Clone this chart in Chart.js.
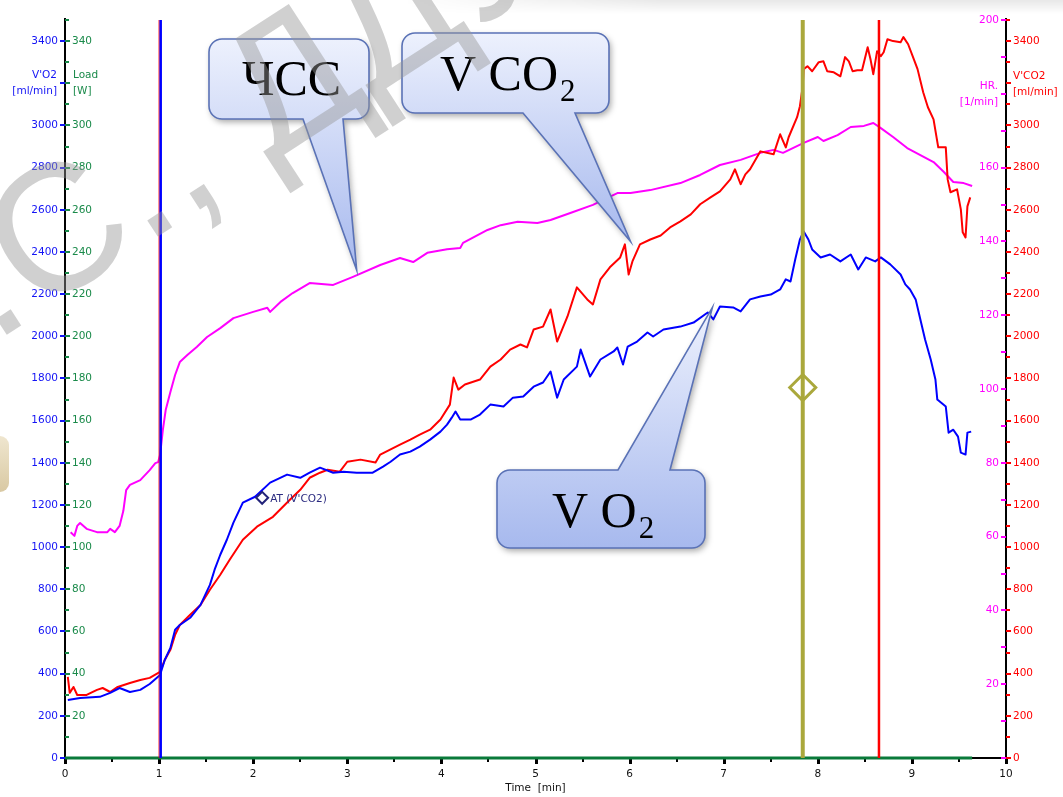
<!DOCTYPE html>
<html><head><meta charset="utf-8">
<script src="https://cdn.jsdelivr.net/npm/chart.js@4.4.1/dist/chart.umd.min.js"></script>
<style>html,body{margin:0;padding:0;background:#fff;overflow:hidden}#wrap{position:relative;width:1063px;height:797px}canvas{display:block}</style>
</head><body><div id="wrap"><canvas id="c" width="1063" height="797"></canvas></div>
<script>
// ---------- DATA ----------
const timeTickLabels = [0,1,2,3,4,5,6,7,8,9,10];
const vo2TickLabels = [0,200,400,600,800,1000,1200,1400,1600,1800,2000,2200,2400,2600,2800,3000,3400];
const loadTickLabels = [20,40,60,80,100,120,140,160,180,200,220,240,260,280,300,340];
const hrTickLabels = [20,40,60,80,100,120,140,160,200];
const vco2TickLabels = [0,200,400,600,800,1000,1200,1400,1600,1800,2000,2200,2400,2600,2800,3000,3400];

const hrTime = [0.06,0.10,0.13,0.16,0.23,0.34,0.45,0.48,0.53,0.58,
  0.62,0.65,0.69,0.80,0.90,0.96,0.99,1.01,1.04,1.07,
  1.12,1.17,1.22,1.30,1.40,1.51,1.65,1.79,2.00,2.15,
  2.18,2.29,2.42,2.60,2.85,3.06,3.35,3.56,3.70,3.85,
  4.06,4.20,4.23,4.49,4.63,4.81,5.02,5.16,5.37,5.61,
  5.87,6.01,6.22,6.54,6.75,6.96,7.18,7.39,7.53,7.63,
  7.85,8.00,8.06,8.21,8.35,8.49,8.59,8.67,8.80,8.95,
  9.09,9.23,9.34,9.44,9.55,9.64];
const hrValues = [61.2,60.2,62.9,63.7,62.1,61.2,61.2,62.1,61.2,62.9,
  67.0,72.6,74.0,75.3,78.0,79.9,80.2,82.1,88.9,94.3,
  99.2,103.8,107.3,109.2,111.4,114.1,116.5,119.2,120.9,122.0,
  120.9,123.6,126.0,128.7,128.2,130.4,133.6,135.5,134.4,136.9,
  137.9,138.2,139.6,143.1,144.4,145.3,145.0,145.8,147.7,149.9,
  153.1,153.1,153.9,155.8,158.0,160.7,162.1,164.0,164.8,164.0,
  166.7,168.3,167.2,168.8,171.0,171.3,172.1,170.7,168.3,165.3,
  163.4,161.5,158.8,156.1,155.8,155.0];

const vo2Time = [0.03,0.16,0.37,0.48,0.58,0.69,0.80,0.90,1.01,1.06,
  1.12,1.17,1.22,1.33,1.44,1.49,1.54,1.59,1.65,1.72,
  1.79,1.89,2.02,2.18,2.36,2.50,2.60,2.71,2.85,2.96,
  3.10,3.27,3.38,3.46,3.56,3.67,3.77,3.88,3.99,4.06,
  4.11,4.15,4.20,4.31,4.41,4.52,4.66,4.76,4.87,4.98,
  5.08,5.16,5.23,5.30,5.44,5.48,5.58,5.69,5.83,5.87,
  5.93,5.98,6.08,6.19,6.25,6.36,6.54,6.68,6.83,6.89,
  6.96,7.10,7.18,7.28,7.39,7.50,7.60,7.66,7.71,7.76,
  7.81,7.85,7.90,7.94,8.03,8.13,8.24,8.35,8.43,8.51,
  8.61,8.67,8.77,8.88,8.93,8.98,9.04,9.09,9.14,9.20,
  9.25,9.27,9.36,9.39,9.44,9.49,9.52,9.57,9.59,9.63];
const vo2Values = [275,285,290,309,332,313,323,351,394,465,
  522,608,631,665,726,774,821,893,964,1035,
  1116,1211,1239,1306,1344,1329,1353,1377,1353,1358,
  1353,1353,1382,1405,1439,1453,1477,1510,1548,1581,
  1614,1643,1605,1605,1629,1676,1667,1709,1714,1761,
  1781,1833,1709,1795,1856,1937,1809,1890,1928,1947,
  1866,1951,1975,2018,1999,2032,2046,2065,2113,2080,
  2141,2137,2118,2175,2189,2198,2222,2270,2260,2364,
  2459,2497,2459,2412,2374,2388,2355,2388,2317,2374,
  2355,2374,2341,2293,2246,2222,2175,2080,1985,1890,
  1795,1700,1667,1543,1557,1524,1448,1439,1543,1548];

const vco2Time = [0.03,0.05,0.09,0.13,0.23,0.34,0.40,0.48,0.56,0.69,
  0.80,0.90,1.01,1.06,1.12,1.17,1.22,1.33,1.44,1.54,
  1.65,1.75,1.89,2.04,2.21,2.39,2.50,2.60,2.71,2.79,
  2.92,3.00,3.14,3.30,3.35,3.56,3.67,3.77,3.88,3.99,
  4.09,4.13,4.18,4.25,4.41,4.52,4.63,4.73,4.84,4.91,
  4.98,5.08,5.16,5.23,5.34,5.44,5.55,5.61,5.69,5.79,
  5.90,5.95,5.99,6.03,6.11,6.22,6.33,6.43,6.54,6.65,
  6.75,6.86,6.96,7.07,7.12,7.18,7.23,7.28,7.39,7.53,
  7.60,7.66,7.69,7.78,7.81,7.84,7.85,7.89,7.94,8.01,
  8.06,8.10,8.17,8.24,8.29,8.33,8.37,8.42,8.47,8.53,
  8.56,8.59,8.63,8.67,8.70,8.74,8.80,8.88,8.91,8.96,
  9.02,9.06,9.12,9.17,9.23,9.28,9.36,9.38,9.41,9.48,
  9.52,9.54,9.57,9.59,9.62];
const vco2Values = [385,309,337,299,299,323,332,313,337,356,
  370,380,408,465,513,584,631,679,726,798,
  869,940,1035,1097,1144,1225,1272,1329,1353,1367,
  1358,1405,1415,1401,1439,1486,1510,1534,1557,1605,
  1676,1804,1747,1771,1795,1856,1890,1937,1961,1947,
  2032,2046,2127,1975,2094,2232,2175,2151,2270,2327,
  2374,2436,2293,2355,2436,2459,2478,2516,2545,2578,
  2626,2659,2687,2744,2792,2721,2768,2792,2877,2863,
  2958,2896,2944,3039,3091,3186,3267,3281,3257,3300,
  3304,3257,3252,3233,3324,3304,3257,3262,3262,3371,
  3314,3243,3352,3328,3347,3409,3400,3395,3419,3385,
  3314,3267,3157,3086,3029,2896,2896,2744,2683,2697,
  2602,2493,2469,2616,2659];

const loadTime = [0, 9.64];
const loadValues = [0, 0];

// phase markers: start of load (two-tone line), threshold, end of load
const phaseTimes = [1.0, 1.017, 7.84, 8.65];
const atMarker = {time: 2.095, vo2: 1234, label: "AT (V'CO2)"};
const vtMarker = {time: 7.84, vo2: 1757};

// ---------- CHART ----------
const pts = (xs, ys) => xs.map((x, i) => ({x, y: ys[i]}));
const vline = t => [{x: t, y: 0}, {x: t, y: 3500}];
const FONT = '10.5px "DejaVu Sans"';
const C = {blue:'#1414f5', green:'#1a8a4a', mag:'#ff00ff', red:'#ff0000', olive:'#aaa83c'};

function seg(ctx,x1,y1,x2,y2){ctx.beginPath();ctx.moveTo(x1,y1);ctx.lineTo(x2,y2);ctx.stroke();}

const backgroundPlugin = {
  id: 'bg',
  beforeDraw(chart) {
    const ctx = chart.ctx;
    ctx.save();
    // faint slide shadow along the top edge, fading in from the left
    const g = ctx.createLinearGradient(0, 0, 0, 14);
    g.addColorStop(0, 'rgba(0,0,0,0.09)'); g.addColorStop(1, 'rgba(0,0,0,0)');
    ctx.fillStyle = g;
    for (let x = 400; x < 1063; x += 4) {
      ctx.globalAlpha = Math.min(1, (x - 400) / 260);
      ctx.fillRect(x, 0, 4, 14);
    }
    ctx.restore();
    // slide element peeking in at the left edge
    ctx.save();
    const b = ctx.createLinearGradient(0, 436, 0, 492);
    b.addColorStop(0, '#efe6cf'); b.addColorStop(1, '#d9c9a3');
    ctx.fillStyle = b;
    ctx.beginPath(); ctx.moveTo(-20, 436); ctx.lineTo(0, 436); ctx.arcTo(9, 436, 9, 446, 9);
    ctx.lineTo(9, 482); ctx.arcTo(9, 492, 0, 492, 9); ctx.lineTo(-20, 492); ctx.closePath(); ctx.fill();
    ctx.restore();
  }
};

const axesPlugin = {
  id: 'customAxes',
  beforeDatasetsDraw(chart) {
    const {ctx, chartArea: a, scales: s} = chart;
    ctx.save();
    ctx.lineCap = 'butt';
    ctx.strokeStyle = '#000'; ctx.lineWidth = 2;
    seg(ctx, a.left, a.top - 2, a.left, a.bottom + 4);
    seg(ctx, a.right, a.top - 2, a.right, a.bottom + 4);
    seg(ctx, a.left, a.bottom, a.right, a.bottom);
    ctx.font = FONT; ctx.textBaseline = 'middle';
    for (let v = 0; v <= 3500; v += 100) {
      const y = Math.round(s.yVO2.getPixelForValue(v));
      ctx.fillStyle = C.green;
      if (v % 200 === 0) {
        ctx.fillStyle = C.blue; ctx.fillRect(a.left - 5, y - 1, 5, 2);
        ctx.fillStyle = C.green; ctx.fillRect(a.left, y - 1, 5, 2);
      } else {
        ctx.fillRect(a.left, y - 1, 4, 2);
      }
    }
    ctx.textAlign = 'right'; ctx.fillStyle = C.blue;
    vo2TickLabels.forEach(v => ctx.fillText(String(v), a.left - 7, s.yVO2.getPixelForValue(v)));
    ctx.textAlign = 'left'; ctx.fillStyle = C.green;
    loadTickLabels.forEach(v => ctx.fillText(String(v), a.left + 7, s.yLoad.getPixelForValue(v)));
    for (let h = 0; h <= 200; h += 10) {
      const y = Math.round(s.yHR.getPixelForValue(h));
      ctx.fillStyle = C.mag; ctx.fillRect(a.right - 5, y - 1, 5, 2);
    }
    for (let v = 0; v <= 3500; v += 100) {
      const y = Math.round(s.yCO2.getPixelForValue(v));
      ctx.fillStyle = C.red; ctx.fillRect(a.right, y - 1, v % 200 === 0 ? 5 : 4, 2);
    }
    ctx.textAlign = 'right'; ctx.fillStyle = C.mag;
    hrTickLabels.forEach(v => ctx.fillText(String(v), a.right - 7, s.yHR.getPixelForValue(v)));
    ctx.textAlign = 'left'; ctx.fillStyle = C.red;
    vco2TickLabels.forEach(v => ctx.fillText(String(v), a.right + 7, s.yCO2.getPixelForValue(v)));
    ctx.fillStyle = '#000';
    for (let t = 0; t <= 10; t += 0.5) {
      const x = Math.round(s.x.getPixelForValue(t));
      if (Number.isInteger(t)) ctx.fillRect(x - 1, a.bottom + 1, 3, 5);
      else ctx.fillRect(x - 1, a.bottom + 1, 2, 3);
    }
    ctx.textAlign = 'center'; ctx.fillStyle = '#111';
    timeTickLabels.forEach(t => ctx.fillText(String(t), s.x.getPixelForValue(t), a.bottom + 16));
    ctx.fillText('Time  [min]', (a.left + a.right) / 2, a.bottom + 30);
    ctx.textAlign = 'right'; ctx.fillStyle = C.blue;
    ctx.fillText("V'O2", a.left - 8, 75); ctx.fillText('[ml/min]', a.left - 8, 91);
    ctx.textAlign = 'left'; ctx.fillStyle = C.green;
    ctx.fillText('Load', a.left + 8, 75); ctx.fillText('[W]', a.left + 8, 91);
    ctx.textAlign = 'right'; ctx.fillStyle = C.mag;
    ctx.fillText('HR.', a.right - 8, 86); ctx.fillText('[1/min]', a.right - 8, 102);
    ctx.textAlign = 'left'; ctx.fillStyle = C.red;
    ctx.fillText("V'CO2", a.right + 7, 76); ctx.fillText('[ml/min]', a.right + 7, 92);
    ctx.restore();
  },
  afterDatasetsDraw(chart) {
    const {ctx, scales: s} = chart;
    ctx.save();
    ctx.font = FONT; ctx.textBaseline = 'middle'; ctx.textAlign = 'left';
    ctx.fillStyle = '#2b2b80';
    ctx.fillText(atMarker.label, s.x.getPixelForValue(atMarker.time) + 8, s.yVO2.getPixelForValue(atMarker.vo2) + 1);
    ctx.restore();
  }
};

function calloutPath(ctx, L, T, R, B, r, side, b1, b2, tx, ty) {
  ctx.beginPath();
  ctx.moveTo(L + r, T);
  if (side === 'top') { ctx.lineTo(b1, T); ctx.lineTo(tx, ty); ctx.lineTo(b2, T); }
  ctx.lineTo(R - r, T); ctx.arcTo(R, T, R, T + r, r);
  ctx.lineTo(R, B - r); ctx.arcTo(R, B, R - r, B, r);
  if (side === 'bottom') { ctx.lineTo(b2, B); ctx.lineTo(tx, ty); ctx.lineTo(b1, B); }
  ctx.lineTo(L + r, B); ctx.arcTo(L, B, L, B - r, r);
  ctx.lineTo(L, T + r); ctx.arcTo(L, T, L + r, T, r);
  ctx.closePath();
}
function drawCallout(ctx, c, s) {
  const tx = s.x.getPixelForValue(c.tipTime), ty = s[c.axis].getPixelForValue(c.tipValue);
  const [L, T, R, B] = c.box;
  const y0 = Math.min(T, ty), y1 = Math.max(B, ty);
  const g = ctx.createLinearGradient(0, y0, 0, y1);
  g.addColorStop(0, '#edf1fd'); g.addColorStop(1, '#a7b9ee');
  ctx.save();
  calloutPath(ctx, L, T, R, B, 13, c.side, c.base[0], c.base[1], tx, ty);
  ctx.shadowColor = 'rgba(0,0,0,0.35)'; ctx.shadowBlur = 6; ctx.shadowOffsetX = 2; ctx.shadowOffsetY = 3;
  ctx.fillStyle = g; ctx.fill();
  ctx.shadowColor = 'transparent';
  ctx.strokeStyle = '#5a72b6'; ctx.lineWidth = 1.6; ctx.stroke();
  ctx.fillStyle = '#000'; ctx.textBaseline = 'alphabetic'; ctx.textAlign = 'left';
  ctx.font = '50px "Liberation Serif"';
  ctx.fillText(c.text, c.textX, c.textY);
  if (c.sub) {
    const w = ctx.measureText(c.text).width;
    ctx.font = '31px "Liberation Serif"';
    ctx.fillText(c.sub, c.textX + w + 2, c.textY + 11);
  }
  ctx.restore();
}
const callouts = [
  {text: 'ЧСС', box: [209, 39, 369, 119], side: 'bottom', base: [303, 343], tipTime: 3.10, axis: 'yHR', tipValue: 132.2, textX: 242, textY: 95},
  {text: 'V CO', sub: '2', box: [402, 33, 609, 113], side: 'bottom', base: [523, 575], tipTime: 6.01, axis: 'yCO2', tipValue: 2450, textX: 440, textY: 90},
  {text: 'V O', sub: '2', box: [497, 470, 705, 548], side: 'top', base: [618, 670], tipTime: 6.88, axis: 'yVO2', tipValue: 2137, textX: 552, textY: 527}
];

const overlayPlugin = {
  id: 'overlay',
  afterDraw(chart) {
    const {ctx, scales: s} = chart;
    callouts.forEach(c => drawCallout(ctx, c, s));
    // watermark (semi-transparent, on top of everything)
    ctx.save();
    ctx.translate(165, 232);
    ctx.rotate(-33 * Math.PI / 180);
    ctx.font = '180px "Liberation Sans"';
    const pre = ctx.measureText('А.С').width + ctx.measureText('.').width / 2;
    ctx.fillStyle = 'rgba(150,150,150,0.45)';
    ctx.textBaseline = 'alphabetic'; ctx.textAlign = 'left';
    ctx.fillText('А.С., ДДУ', -pre, 0);
    ctx.restore();
  }
};

new Chart(document.getElementById('c'), {
  type: 'line',
  data: {
    datasets: [
      {label: 'AT', data: [{x: atMarker.time, y: atMarker.vo2}], yAxisID: 'yVO2', showLine: false,
        pointStyle: 'rectRot', pointRadius: 6, pointBorderColor: '#23237a', pointBackgroundColor: 'rgba(255,255,255,0)', pointBorderWidth: 2},
      {label: 'VT', data: [{x: vtMarker.time, y: vtMarker.vo2}], yAxisID: 'yVO2', showLine: false,
        pointStyle: 'rectRot', pointRadius: 13, pointBorderColor: C.olive, pointBackgroundColor: 'rgba(255,255,255,0)', pointBorderWidth: 3},
      {label: 'end', data: vline(phaseTimes[3]), yAxisID: 'yVO2', borderColor: C.red, borderWidth: 2.5},
      {label: 'vt', data: vline(phaseTimes[2]), yAxisID: 'yVO2', borderColor: C.olive, borderWidth: 4},
      {label: 'start', data: vline(phaseTimes[1]), yAxisID: 'yVO2', borderColor: '#0000ff', borderWidth: 2.5},
      {label: 'start2', data: vline(phaseTimes[0]), yAxisID: 'yVO2', borderColor: C.red, borderWidth: 1},
      {label: "V'O2", data: pts(vo2Time, vo2Values), yAxisID: 'yVO2', borderColor: '#0000ff', borderWidth: 2},
      {label: "V'CO2", data: pts(vco2Time, vco2Values), yAxisID: 'yCO2', borderColor: '#ff0000', borderWidth: 2},
      {label: 'HR', data: pts(hrTime, hrValues), yAxisID: 'yHR', borderColor: '#ff00ff', borderWidth: 2},
      {label: 'Load', data: pts(loadTime, loadValues), yAxisID: 'yLoad', borderColor: '#0a7a3a', borderWidth: 3, clip: 5}
    ]
  },
  options: {
    responsive: false, animation: false, devicePixelRatio: 1,
    layout: {padding: {left: 65, right: 57, top: 20, bottom: 39}},
    plugins: {legend: {display: false}, tooltip: {enabled: false}},
    elements: {point: {radius: 0}, line: {tension: 0, borderJoinStyle: 'round'}},
    scales: {
      x: {type: 'linear', min: 0, max: 10, display: false},
      yVO2: {type: 'linear', min: 0, max: 3500, display: false},
      yLoad: {type: 'linear', min: 0, max: 350, display: false},
      yHR: {type: 'linear', min: 0, max: 200, display: false},
      yCO2: {type: 'linear', min: 0, max: 3500, display: false}
    }
  },
  plugins: [backgroundPlugin, axesPlugin, overlayPlugin]
});
</script>
</body></html>
